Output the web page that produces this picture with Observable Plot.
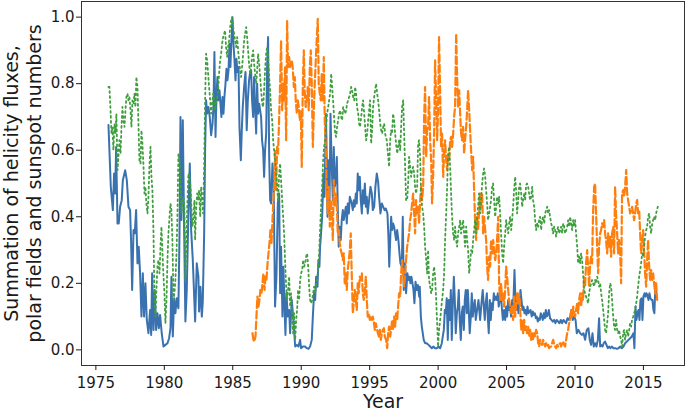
<!DOCTYPE html>
<html><head><meta charset="utf-8">
<script src="https://cdn.jsdelivr.net/npm/d3@7"></script>
<script src="https://cdn.jsdelivr.net/npm/@observablehq/plot@0.6"></script>
<style>body{margin:0;background:#fff}</style>
</head><body><div id="chart"></div>
<script>
const xTicks = [1975, 1980, 1985, 1990, 1995, 2000, 2005, 2010, 2015];
const yTicks = [0, 0.2, 0.4, 0.6, 0.8, 1.0];
const xLabel = "Year";
const yLabel = "Summation of helicity fluxes,\npolar fields and sunspot numbers";

// helicity fluxes (blue, solid)
const blueYears = [1975.92,1976.09,1976.24,1976.33,1976.41,1976.48,1976.58,1976.67,1976.77,1976.89,1976.97,1977.14,1977.26,1977.38,1977.50,1977.57,1977.65,1977.75,1977.84,1977.94,1978.04,1978.13,1978.23,1978.33,1978.43,1978.52,1978.62,1978.72,1978.84,1978.96,1979.04,1979.11,1979.21,1979.30,1979.40,1979.50,1979.60,1979.69,1979.81,1979.94,1980.08,1980.23,1980.35,1980.45,1980.52,1980.62,1980.72,1980.81,1980.91,1981.03,1981.11,1981.18,1981.25,1981.35,1981.45,1981.54,1981.64,1981.76,1981.86,1981.96,1982.08,1982.25,
1982.37,1982.49,1982.54,1982.64,1982.74,1982.81,1982.91,1982.98,1983.05,1983.13,1983.22,1983.32,1983.42,1983.52,1983.59,1983.66,1983.74,1983.81,1983.88,1983.95,1984.03,1984.10,1984.17,1984.25,1984.32,1984.39,1984.47,1984.54,1984.61,1984.69,1984.76,1984.83,1984.90,1984.98,1985.05,1985.12,1985.20,1985.27,1985.34,1985.42,1985.49,1985.59,1985.66,1985.73,1985.83,1985.93,1986.02,1986.10,1986.19,1986.27,1986.34,1986.41,1986.49,1986.56,1986.63,1986.71,1986.78,1986.85,1986.93,1987.00,1987.07,1987.14,1987.22,1987.29,1987.36,1987.44,1987.51,1987.58,1987.66,1987.73,1987.80,1987.90,1987.99,1988.09,1988.19,1988.29,1988.39,1988.46,1988.53,1988.63,1988.70,1988.78,1988.85,1988.92,1989.02,1989.12,
1989.19,1989.31,1989.43,1989.56,1989.68,1989.80,1989.92,1989.99,1990.12,1990.28,1990.41,1990.53,1990.65,1990.77,1990.85,1990.94,1991.02,1991.09,1991.19,1991.26,1991.33,1991.38,1991.45,1991.53,1991.63,1991.70,1991.75,1991.80,1991.84,1991.92,1991.99,1992.06,1992.14,1992.21,1992.31,1992.38,1992.45,1992.53,1992.60,1992.67,1992.74,1992.82,1992.89,1992.96,1993.04,1993.11,1993.18,1993.26,1993.33,1993.40,1993.48,1993.55,1993.62,1993.69,1993.77,1993.84,1993.91,1993.99,1994.06,1994.13,1994.20,1994.28,1994.35,1994.43,1994.50,1994.57,1994.65,1994.72,1994.79,1994.86,1994.96,1995.06,1995.16,1995.23,1995.33,1995.42,1995.52,1995.62,1995.69,1995.79,1995.89,1995.99,1996.09,1996.18,1996.30,1996.38,1996.43,
1996.50,1996.57,1996.64,1996.71,1996.79,1996.86,1996.93,1997.01,1997.10,1997.18,1997.25,1997.35,1997.42,1997.49,1997.59,1997.66,1997.76,1997.83,1997.91,1997.98,1998.05,1998.13,1998.20,1998.27,1998.35,1998.44,1998.52,1998.62,1998.66,1998.74,1998.81,1998.88,1998.95,1999.05,1999.17,1999.30,1999.42,1999.54,1999.66,1999.78,1999.91,2000.03,2000.15,2000.27,2000.34,2000.42,2000.49,2000.56,2000.63,2000.71,2000.78,2000.85,2000.93,2001.00,2001.07,2001.15,2001.22,2001.29,2001.37,2001.44,2001.51,2001.58,2001.66,2001.73,2001.80,2001.88,2001.95,2002.02,2002.10,2002.17,2002.24,2002.31,2002.39,2002.46,2002.53,2002.61,2002.68,2002.75,2002.85,2002.95,
2003.07,2003.19,2003.26,2003.34,2003.41,2003.48,2003.56,2003.63,2003.70,2003.78,2003.85,2003.92,2003.99,2004.07,2004.14,2004.21,2004.29,2004.36,2004.43,2004.51,2004.58,2004.65,2004.73,2004.82,2004.90,2004.97,2005.04,2005.12,2005.19,2005.26,2005.33,2005.41,2005.48,2005.58,2005.65,2005.72,2005.80,2005.87,2005.94,2006.02,2006.09,2006.16,2006.24,2006.31,2006.38,2006.45,2006.53,2006.60,2006.67,2006.75,2006.84,2006.92,2006.99,2007.07,2007.14,2007.21,2007.28,2007.36,2007.43,2007.50,2007.58,2007.65,2007.72,2007.80,2007.87,2007.94,2008.01,2008.09,2008.18,2008.28,2008.38,2008.48,2008.57,2008.67,2008.77,2008.87,2008.96,2009.06,2009.16,2009.26,2009.35,2009.45,2009.55,2009.65,2009.74,2009.84,2009.94,2010.04,
2010.13,2010.25,2010.38,2010.50,2010.62,2010.74,2010.86,2010.98,2011.08,2011.18,2011.28,2011.37,2011.47,2011.57,2011.67,2011.76,2011.84,2011.91,2012.01,2012.10,2012.20,2012.30,2012.40,2012.49,2012.59,2012.69,2012.81,2012.93,2013.05,2013.18,2013.30,2013.42,2013.54,2013.66,2013.79,2013.91,2014.03,2014.15,2014.27,2014.34,2014.42,2014.49,2014.56,2014.64,2014.71,2014.78,2014.86,2014.93,2015.00,2015.08,2015.15,2015.22,2015.29,2015.37,2015.44,2015.51,2015.59,2015.66,2015.73,2015.80,2015.88,2015.95];
const blueValues = [0.676,0.49,0.42,0.53,0.47,0.61,0.38,0.38,0.43,0.45,0.51,0.54,0.51,0.43,0.42,0.33,0.18,0.36,0.35,0.42,0.26,0.31,0.23,0.10,0.23,0.10,0.20,0.09,0.05,0.12,0.045,0.23,0.06,0.18,0.06,0.11,0.065,0.105,0.05,0.01,0.015,0.02,0.035,0.065,0.22,0.04,0.155,0.11,0.155,0.125,0.35,0.70,0.39,0.69,0.35,0.085,0.18,0.41,0.56,0.36,0.27,0.085,
0.26,0.22,0.115,0.19,0.10,0.145,0.35,0.60,0.75,0.71,0.73,0.70,0.645,0.68,0.73,0.895,0.64,0.76,0.82,0.75,0.78,0.74,0.70,0.76,0.71,0.76,0.80,0.845,0.81,0.84,0.92,0.85,0.93,1.0,0.92,0.875,0.81,0.875,0.835,0.85,0.67,0.57,0.66,0.73,0.79,0.835,0.66,0.75,0.81,0.835,0.84,0.75,0.70,0.82,0.73,0.65,0.80,0.71,0.74,0.72,0.70,0.63,0.60,0.52,0.60,0.65,0.85,0.94,0.58,0.45,0.44,0.56,0.49,0.13,0.22,0.44,0.47,0.17,0.31,0.10,0.25,0.13,0.045,0.17,0.10,0.12,
0.05,0.15,0.09,0.01,0.015,0.01,0.03,0.005,0.01,0.01,0.005,0.003,0.01,0.03,0.10,0.17,0.15,0.22,0.19,0.27,0.25,0.31,0.35,0.40,0.53,0.46,0.58,0.71,0.64,0.40,0.57,0.41,0.71,0.58,0.45,0.61,0.49,0.51,0.58,0.43,0.31,0.37,0.33,0.39,0.42,0.39,0.41,0.43,0.38,0.44,0.41,0.46,0.45,0.44,0.42,0.45,0.43,0.47,0.44,0.53,0.48,0.52,0.45,0.41,0.48,0.44,0.50,0.43,0.46,0.41,0.45,0.49,0.47,0.42,0.43,0.49,0.53,0.505,0.46,0.41,0.44,0.43,0.42,0.425,0.41,0.33,0.25,
0.33,0.40,0.36,0.38,0.37,0.35,0.33,0.36,0.33,0.29,0.26,0.25,0.40,0.18,0.26,0.17,0.23,0.21,0.22,0.20,0.22,0.20,0.18,0.14,0.205,0.18,0.195,0.16,0.19,0.10,0.07,0.05,0.03,0.02,0.02,0.015,0.01,0.005,0.01,0.005,0.005,0.01,0.005,0.02,0.04,0.06,0.12,0.11,0.155,0.03,0.15,0.09,0.18,0.03,0.13,0.22,0.15,0.05,0.11,0.13,0.18,0.09,0.03,0.11,0.13,0.06,0.15,0.18,0.11,0.18,0.12,0.05,0.10,0.17,0.10,0.13,0.15,0.09,0.12,0.15,
0.09,0.15,0.18,0.13,0.09,0.14,0.17,0.10,0.05,0.15,0.09,0.14,0.12,0.17,0.15,0.16,0.15,0.17,0.13,0.15,0.18,0.13,0.09,0.12,0.09,0.13,0.10,0.15,0.12,0.13,0.10,0.15,0.12,0.24,0.15,0.12,0.15,0.11,0.15,0.18,0.15,0.12,0.13,0.11,0.12,0.105,0.13,0.11,0.115,0.12,0.10,0.115,0.105,0.11,0.095,0.10,0.085,0.095,0.09,0.11,0.10,0.09,0.11,0.095,0.12,0.10,0.105,0.12,0.095,0.09,0.085,0.09,0.08,0.09,0.085,0.08,0.09,0.08,0.09,0.085,0.08,0.095,0.09,0.10,0.12,0.09,0.10,0.09,
0.05,0.06,0.05,0.045,0.05,0.03,0.06,0.065,0.03,0.015,0.05,0.01,0.02,0.01,0.03,0.095,0.01,0.015,0.01,0.02,0.025,0.015,0.005,0.01,0.005,0.01,0.005,0.005,0.003,0.005,0.01,0.005,0.01,0.02,0.025,0.03,0.035,0.04,0.05,0.005,0.13,0.09,0.11,0.12,0.09,0.15,0.155,0.09,0.16,0.17,0.16,0.17,0.165,0.15,0.17,0.155,0.15,0.15,0.12,0.11,0.20,0.17];

// sunspot numbers (orange, dashed)
const orangeYears = [1986.44,1986.51,1986.58,1986.66,1986.73,1986.80,1986.88,1986.95,1987.02,1987.10,1987.17,1987.24,1987.32,1987.39,1987.46,1987.54,1987.61,1987.68,1987.75,1987.83,1987.90,1987.97,1988.02,1988.09,1988.17,1988.24,1988.31,1988.39,1988.46,1988.53,1988.61,1988.68,1988.75,1988.82,1988.90,1988.97,1989.04,1989.12,
1989.19,1989.31,1989.38,1989.46,1989.53,1989.60,1989.68,1989.75,1989.82,1989.90,1989.97,1990.04,1990.12,1990.19,1990.26,1990.33,1990.41,1990.48,1990.55,1990.63,1990.70,1990.77,1990.85,1990.92,1990.99,1991.07,1991.14,1991.21,1991.28,1991.36,1991.43,1991.50,1991.58,1991.65,1991.72,1991.80,1991.87,1991.94,1992.02,1992.09,1992.16,1992.23,1992.31,1992.38,1992.45,1992.53,1992.60,1992.67,1992.75,1992.82,1992.89,1992.96,1993.04,1993.11,1993.18,1993.26,1993.33,1993.40,1993.48,1993.55,1993.62,1993.69,1993.77,1993.84,1993.91,1993.99,1994.06,1994.13,1994.20,1994.28,1994.35,1994.43,1994.50,1994.57,1994.65,1994.72,1994.79,1994.86,1994.94,1995.01,1995.08,1995.16,1995.23,1995.30,1995.38,1995.45,1995.52,1995.60,1995.67,1995.74,1995.82,1995.89,1995.96,1996.04,1996.11,
1996.20,1996.28,1996.35,1996.42,1996.50,1996.57,1996.64,1996.71,1996.79,1996.86,1996.93,1997.01,1997.08,1997.15,1997.23,1997.30,1997.37,1997.45,1997.52,1997.59,1997.66,1997.74,1997.81,1997.88,1997.96,1998.03,1998.10,1998.18,1998.25,1998.32,1998.39,1998.47,1998.54,1998.61,1998.69,1998.76,1998.83,1998.91,1998.98,1999.05,1999.13,1999.20,1999.27,1999.34,1999.42,1999.49,1999.56,1999.64,1999.71,1999.78,1999.86,1999.93,2000.00,2000.07,2000.15,2000.22,2000.29,2000.37,2000.44,2000.51,2000.59,2000.66,2000.73,2000.81,2000.88,2000.95,2001.02,2001.10,2001.17,2001.24,2001.32,2001.39,2001.46,2001.54,2001.61,2001.68,2001.75,2001.83,2001.90,2001.97,2002.05,2002.12,2002.19,2002.27,2002.34,2002.41,2002.49,2002.56,2002.63,2002.70,2002.78,2002.85,2002.92,2002.99,
2003.07,2003.14,2003.22,2003.29,2003.36,2003.44,2003.51,2003.58,2003.65,2003.73,2003.80,2003.87,2003.95,2004.02,2004.09,2004.17,2004.24,2004.31,2004.39,2004.46,2004.53,2004.60,2004.68,2004.75,2004.82,2004.90,2004.97,2005.04,2005.12,2005.19,2005.26,2005.34,2005.41,2005.48,2005.55,2005.63,2005.70,2005.77,2005.85,2005.92,2005.99,2006.07,2006.14,2006.21,2006.29,2006.36,2006.43,2006.50,2006.58,2006.65,2006.72,2006.80,2006.87,2006.94,2007.02,2007.09,2007.16,2007.24,2007.31,2007.38,2007.45,2007.53,2007.60,2007.67,2007.75,2007.82,2007.89,2007.97,2008.04,2008.11,2008.19,2008.26,2008.33,2008.41,2008.48,2008.55,2008.62,2008.70,2008.77,2008.84,2008.92,2008.99,2009.06,2009.14,2009.21,2009.28,2009.35,2009.43,2009.50,2009.57,2009.65,2009.72,2009.79,2009.87,2009.94,
2010.01,2010.08,2010.16,2010.23,2010.30,2010.38,2010.45,2010.52,2010.59,2010.67,2010.74,2010.81,2010.89,2010.96,2011.03,2011.11,2011.18,2011.25,2011.32,2011.40,2011.47,2011.54,2011.62,2011.69,2011.76,2011.84,2011.91,2011.98,2012.06,2012.13,2012.20,2012.27,2012.35,2012.42,2012.49,2012.57,2012.64,2012.71,2012.79,2012.86,2012.93,2013.00,2013.08,2013.15,2013.22,2013.30,2013.37,2013.44,2013.52,2013.59,2013.66,2013.74,2013.81,2013.88,2013.96,2014.03,2014.10,2014.17,2014.25,2014.32,2014.39,2014.47,2014.54,2014.61,2014.69,2014.76,2014.83,2014.91,2014.98,2015.05,2015.12,2015.20,2015.27,2015.34,2015.42,2015.49,2015.56,2015.64,2015.71,2015.78,2015.85,2015.93,2016.00];
const orangeValues = [0.05,0.03,0.025,0.04,0.10,0.16,0.13,0.15,0.18,0.17,0.20,0.23,0.18,0.22,0.21,0.26,0.29,0.32,0.36,0.32,0.39,0.45,0.49,0.60,0.48,0.61,0.59,0.70,0.80,0.93,0.72,0.80,0.75,0.85,0.63,0.99,0.85,0.88,
0.85,0.87,0.85,0.79,0.82,0.75,0.71,0.75,0.73,0.69,0.72,0.55,0.80,0.90,0.77,0.73,0.75,0.79,0.72,0.85,0.90,0.80,0.61,0.72,0.80,0.875,0.94,0.995,0.80,0.77,0.75,0.83,0.75,0.88,0.69,0.60,0.47,0.41,0.49,0.37,0.45,0.41,0.33,0.51,0.43,0.47,0.44,0.35,0.36,0.32,0.30,0.29,0.27,0.29,0.20,0.23,0.18,0.24,0.27,0.30,0.35,0.23,0.11,0.14,0.18,0.15,0.12,0.20,0.17,0.22,0.21,0.23,0.17,0.15,0.18,0.22,0.15,0.10,0.11,0.09,0.10,0.09,0.10,0.085,0.06,0.08,0.065,0.05,0.04,0.06,0.03,0.05,0.06,0.065,0.04,
0.03,0.005,0.05,0.07,0.04,0.06,0.09,0.06,0.10,0.07,0.11,0.09,0.13,0.17,0.16,0.23,0.27,0.22,0.19,0.23,0.27,0.31,0.33,0.35,0.39,0.41,0.44,0.47,0.41,0.35,0.45,0.41,0.43,0.38,0.45,0.49,0.45,0.49,0.70,0.79,0.58,0.66,0.67,0.76,0.63,0.57,0.44,0.53,0.65,0.87,0.75,0.63,0.72,0.94,0.77,0.61,0.65,0.52,0.59,0.63,0.57,0.54,0.58,0.57,0.63,0.64,0.61,0.65,0.70,0.73,0.95,0.82,0.73,0.78,0.71,0.65,0.63,0.67,0.59,0.63,0.67,0.72,0.78,0.72,0.66,0.60,0.54,0.58,0.48,0.39,0.33,0.40,0.36,0.41,
0.47,0.43,0.47,0.35,0.40,0.36,0.33,0.25,0.21,0.28,0.25,0.33,0.29,0.33,0.30,0.27,0.29,0.33,0.40,0.20,0.15,0.20,0.15,0.17,0.13,0.18,0.25,0.22,0.18,0.15,0.13,0.11,0.13,0.09,0.16,0.10,0.14,0.17,0.14,0.17,0.13,0.06,0.09,0.05,0.09,0.06,0.07,0.05,0.07,0.04,0.06,0.03,0.05,0.03,0.05,0.04,0.06,0.05,0.02,0.01,0.03,0.02,0.015,0.03,0.02,0.01,0.02,0.01,0.015,0.005,0.01,0.01,0.02,0.03,0.015,0.01,0.005,0.015,0.01,0.015,0.02,0.01,0.02,0.025,0.015,0.01,0.03,0.05,0.06,0.08,0.09,0.12,0.10,0.13,0.11,
0.10,0.12,0.14,0.11,0.15,0.17,0.13,0.17,0.15,0.22,0.19,0.26,0.30,0.25,0.19,0.26,0.28,0.26,0.41,0.49,0.50,0.41,0.31,0.23,0.31,0.35,0.36,0.38,0.37,0.39,0.35,0.33,0.29,0.35,0.31,0.34,0.28,0.35,0.37,0.29,0.49,0.41,0.35,0.29,0.33,0.29,0.20,0.47,0.48,0.46,0.49,0.54,0.47,0.45,0.43,0.41,0.42,0.43,0.41,0.39,0.41,0.44,0.45,0.41,0.42,0.35,0.29,0.32,0.36,0.30,0.23,0.19,0.27,0.33,0.25,0.21,0.24,0.21,0.23,0.20,0.17,0.20,0.15];

// polar fields (green, dotted)
const greenYears = [1975.92,1975.99,1976.06,1976.14,1976.21,1976.28,1976.36,1976.43,1976.50,1976.58,1976.65,1976.72,1976.80,1976.87,1976.94,1977.01,1977.09,1977.16,1977.23,1977.31,1977.38,1977.45,1977.53,1977.60,1977.67,1977.75,1977.82,1977.89,1977.96,1978.04,1978.11,1978.18,1978.26,1978.33,1978.40,1978.48,1978.55,1978.62,1978.69,1978.77,1978.84,1978.91,1978.99,1979.06,1979.13,1979.21,1979.28,1979.35,1979.43,1979.50,1979.57,1979.65,1979.72,1979.79,1979.86,1979.94,1980.01,1980.08,1980.16,1980.23,1980.30,1980.38,1980.45,1980.52,1980.59,1980.67,1980.74,1980.81,1980.89,1980.96,1981.03,1981.11,1981.18,1981.25,1981.32,1981.40,1981.47,1981.54,1981.62,1981.69,1981.76,1981.84,1981.91,1981.98,1982.06,1982.13,1982.20,
1982.25,1982.32,1982.40,1982.47,1982.54,1982.62,1982.69,1982.76,1982.83,1982.91,1982.98,1983.05,1983.13,1983.20,1983.27,1983.35,1983.42,1983.49,1983.57,1983.64,1983.71,1983.78,1983.86,1983.93,1984.00,1984.08,1984.15,1984.22,1984.30,1984.37,1984.44,1984.51,1984.59,1984.66,1984.73,1984.81,1984.88,1984.95,1985.03,1985.10,1985.17,1985.25,1985.32,1985.39,1985.46,1985.54,1985.61,1985.68,1985.76,1985.83,1985.90,1985.98,1986.05,1986.12,1986.19,1986.27,1986.34,1986.41,1986.49,1986.56,1986.63,1986.71,1986.78,1986.85,1986.93,1987.00,1987.07,1987.15,1987.22,1987.29,1987.37,1987.44,1987.51,1987.58,1987.66,1987.73,1987.80,1987.88,1987.95,1988.02,1988.09,1988.17,1988.24,1988.31,1988.39,1988.46,1988.53,1988.61,1988.68,1988.75,1988.82,1988.90,1988.97,1989.04,1989.12,
1989.19,1989.26,1989.34,1989.41,1989.48,1989.56,1989.63,1989.70,1989.77,1989.85,1989.92,1989.99,1990.07,1990.14,1990.21,1990.29,1990.36,1990.43,1990.51,1990.58,1990.65,1990.73,1990.80,1990.87,1990.94,1991.02,1991.09,1991.16,1991.24,1991.31,1991.38,1991.45,1991.53,1991.60,1991.67,1991.75,1991.82,1991.89,1991.97,1992.04,1992.11,1992.19,1992.26,1992.33,1992.40,1992.48,1992.55,1992.62,1992.70,1992.77,1992.84,1992.92,1992.99,1993.06,1993.13,1993.21,1993.28,1993.35,1993.43,1993.50,1993.57,1993.65,1993.72,1993.79,1993.87,1993.94,1994.01,1994.08,1994.16,1994.23,1994.30,1994.38,1994.45,1994.52,1994.60,1994.67,1994.74,1994.82,1994.89,1994.96,1995.03,1995.11,1995.18,1995.25,1995.33,1995.40,1995.47,1995.55,1995.62,1995.69,1995.77,1995.84,1995.91,1995.99,1996.06,
1996.13,1996.25,1996.42,1996.50,1996.57,1996.64,1996.71,1996.79,1996.86,1996.93,1997.01,1997.08,1997.15,1997.23,1997.30,1997.37,1997.45,1997.52,1997.59,1997.66,1997.74,1997.81,1997.88,1997.96,1998.03,1998.10,1998.18,1998.25,1998.32,1998.39,1998.47,1998.54,1998.61,1998.69,1998.76,1998.83,1998.91,1998.98,1999.05,1999.13,1999.20,1999.27,1999.34,1999.42,1999.49,1999.56,1999.64,1999.71,1999.78,1999.86,1999.93,2000.00,2000.07,2000.15,2000.22,2000.29,2000.37,2000.44,2000.51,2000.59,2000.66,2000.73,2000.81,2000.88,2000.95,2001.02,2001.10,2001.17,2001.24,2001.32,2001.39,2001.46,2001.54,2001.61,2001.68,2001.75,2001.83,2001.90,2001.97,2002.05,2002.12,2002.19,2002.27,2002.34,2002.41,2002.49,2002.56,2002.63,2002.70,2002.78,2002.85,2002.92,2002.99,
2003.07,2003.14,2003.22,2003.29,2003.36,2003.44,2003.51,2003.58,2003.65,2003.73,2003.80,2003.87,2003.95,2004.02,2004.09,2004.17,2004.24,2004.31,2004.39,2004.46,2004.53,2004.60,2004.68,2004.75,2004.82,2004.90,2004.97,2005.04,2005.12,2005.19,2005.26,2005.34,2005.41,2005.48,2005.55,2005.63,2005.70,2005.77,2005.85,2005.92,2005.99,2006.07,2006.14,2006.21,2006.29,2006.36,2006.43,2006.50,2006.58,2006.65,2006.72,2006.80,2006.87,2006.94,2007.02,2007.09,2007.16,2007.24,2007.31,2007.38,2007.45,2007.53,2007.60,2007.67,2007.75,2007.82,2007.89,2007.97,2008.04,2008.11,2008.18,2008.26,2008.33,2008.40,2008.48,2008.55,2008.62,2008.70,2008.77,2008.84,2008.92,2008.99,2009.06,2009.14,2009.21,2009.28,2009.36,2009.43,2009.50,2009.58,2009.65,2009.72,2009.79,2009.87,2009.94,
2010.01,2010.08,2010.16,2010.23,2010.30,2010.38,2010.45,2010.52,2010.59,2010.67,2010.74,2010.81,2010.89,2010.96,2011.03,2011.11,2011.18,2011.25,2011.32,2011.40,2011.47,2011.54,2011.62,2011.69,2011.76,2011.84,2011.91,2011.98,2012.06,2012.13,2012.20,2012.27,2012.35,2012.42,2012.49,2012.57,2012.64,2012.71,2012.79,2012.86,2012.93,2013.00,2013.08,2013.15,2013.22,2013.30,2013.37,2013.44,2013.52,2013.59,2013.66,2013.74,2013.81,2013.88,2013.96,2014.03,2014.10,2014.17,2014.25,2014.32,2014.39,2014.47,2014.54,2014.61,2014.69,2014.76,2014.83,2014.91,2014.98,2015.05,2015.12,2015.20,2015.27,2015.34,2015.42,2015.49,2015.56,2015.64,2015.71,2015.78,2015.86,2015.93,2015.98,2016.05];
const greenValues = [0.79,0.79,0.73,0.65,0.67,0.60,0.68,0.65,0.71,0.54,0.58,0.63,0.59,0.67,0.73,0.69,0.67,0.72,0.76,0.77,0.75,0.76,0.72,0.67,0.75,0.74,0.77,0.73,0.82,0.79,0.68,0.57,0.56,0.66,0.62,0.55,0.47,0.49,0.44,0.41,0.46,0.55,0.61,0.52,0.48,0.35,0.15,0.10,0.19,0.25,0.27,0.23,0.31,0.37,0.30,0.22,0.17,0.08,0.15,0.27,0.35,0.40,0.44,0.42,0.33,0.15,0.17,0.21,0.29,0.41,0.59,0.57,0.50,0.41,0.44,0.46,0.43,0.21,0.35,0.45,0.53,0.52,0.49,0.43,0.37,0.40,0.45,
0.33,0.42,0.47,0.45,0.48,0.40,0.49,0.45,0.41,0.55,0.75,0.89,0.87,0.83,0.79,0.75,0.71,0.74,0.77,0.75,0.72,0.74,0.76,0.78,0.83,0.87,0.89,0.92,0.94,0.95,0.96,0.91,0.88,0.91,0.93,0.97,0.99,1.0,0.97,0.95,0.93,0.91,0.94,0.90,0.87,0.84,0.82,0.85,0.89,0.93,0.95,0.97,0.94,0.90,0.86,0.83,0.85,0.88,0.90,0.86,0.83,0.80,0.84,0.89,0.86,0.82,0.78,0.74,0.73,0.78,0.85,0.89,0.91,0.88,0.82,0.78,0.72,0.69,0.63,0.60,0.57,0.53,0.49,0.45,0.53,0.56,0.51,0.45,0.40,0.35,0.27,0.19,0.15,0.18,0.22,
0.13,0.17,0.09,0.05,0.11,0.03,0.09,0.12,0.18,0.15,0.21,0.23,0.24,0.27,0.25,0.26,0.28,0.29,0.25,0.19,0.15,0.14,0.15,0.17,0.19,0.17,0.20,0.21,0.25,0.29,0.36,0.43,0.49,0.57,0.61,0.63,0.67,0.71,0.73,0.75,0.77,0.83,0.79,0.75,0.70,0.65,0.64,0.67,0.69,0.71,0.72,0.70,0.69,0.73,0.72,0.71,0.72,0.74,0.75,0.76,0.77,0.79,0.78,0.76,0.75,0.79,0.77,0.73,0.71,0.68,0.67,0.70,0.73,0.75,0.71,0.67,0.63,0.65,0.69,0.72,0.75,0.62,0.66,0.73,0.76,0.78,0.80,0.77,0.75,0.72,0.68,0.66,0.65,0.67,0.68,
0.65,0.63,0.55,0.63,0.66,0.65,0.71,0.69,0.65,0.62,0.59,0.61,0.63,0.60,0.67,0.73,0.75,0.65,0.55,0.45,0.45,0.50,0.58,0.55,0.52,0.54,0.55,0.53,0.49,0.47,0.49,0.62,0.63,0.58,0.47,0.43,0.41,0.37,0.31,0.27,0.23,0.30,0.21,0.19,0.17,0.18,0.23,0.25,0.22,0.15,0.08,0.01,0.06,0.09,0.12,0.15,0.18,0.23,0.33,0.41,0.49,0.59,0.61,0.55,0.47,0.40,0.35,0.33,0.37,0.33,0.31,0.35,0.37,0.39,0.35,0.37,0.39,0.35,0.31,0.37,0.33,0.30,0.23,0.26,0.30,0.29,0.33,0.36,0.39,0.35,0.40,0.43,0.47,
0.41,0.45,0.50,0.53,0.545,0.52,0.48,0.44,0.39,0.41,0.43,0.45,0.49,0.50,0.45,0.40,0.43,0.46,0.44,0.46,0.41,0.35,0.29,0.26,0.31,0.35,0.39,0.37,0.35,0.38,0.40,0.36,0.39,0.43,0.48,0.52,0.48,0.41,0.45,0.49,0.50,0.47,0.43,0.45,0.47,0.45,0.495,0.50,0.49,0.47,0.45,0.46,0.49,0.45,0.43,0.39,0.36,0.38,0.37,0.39,0.40,0.36,0.39,0.40,0.38,0.41,0.42,0.43,0.41,0.42,0.40,0.38,0.37,0.35,0.37,0.36,0.34,0.36,0.37,0.35,0.36,0.37,0.35,0.38,0.37,0.35,0.36,0.37,0.39,0.37,0.40,0.38,0.36,0.39,0.37,
0.39,0.35,0.31,0.26,0.28,0.26,0.29,0.27,0.23,0.18,0.17,0.16,0.15,0.14,0.17,0.19,0.20,0.21,0.20,0.19,0.21,0.20,0.22,0.21,0.19,0.20,0.17,0.15,0.12,0.09,0.06,0.05,0.08,0.11,0.17,0.20,0.19,0.15,0.10,0.07,0.06,0.09,0.06,0.05,0.06,0.04,0.03,0.01,0.05,0.06,0.03,0.05,0.06,0.04,0.06,0.08,0.07,0.09,0.10,0.11,0.12,0.14,0.16,0.19,0.22,0.24,0.26,0.29,0.28,0.31,0.34,0.36,0.37,0.40,0.41,0.37,0.35,0.38,0.39,0.40,0.39,0.41,0.42,0.43];

const series = (years, values) => years.map((x, i) => ({x, y: values[i]}));
const blue = series(blueYears, blueValues);
const orange = series(orangeYears, orangeValues);
const green = series(greenYears, greenValues);

const chart = Plot.plot({
  width: 685,
  height: 411,
  marginLeft: 81,
  marginRight: 1,
  marginTop: 1,
  marginBottom: 46,
  style: {fontFamily: "DejaVu Sans", fontSize: "15px", background: "#fff", color: "#1a1a1a"},
  x: {domain: [1973.95, 2018.0]},
  y: {domain: [-0.047, 1.047]},
  marks: [
    Plot.line(blue, {x: "x", y: "y", stroke: "#3a72b0", strokeWidth: 2}),
    Plot.line(orange, {x: "x", y: "y", stroke: "#ff7f0e", strokeWidth: 2.2, strokeDasharray: "7.4,3.2"}),
    Plot.line(green, {x: "x", y: "y", stroke: "#3f9f3f", strokeWidth: 1.8, strokeDasharray: "1.8,3.2"}),
    Plot.frame({stroke: "#333", strokeWidth: 1}),
    Plot.axisX({ticks: xTicks, tickFormat: d => String(d), tickSize: 5, tickPadding: 7, fontSize: 15, label: null}),
    Plot.axisY({ticks: yTicks, tickFormat: d => d.toFixed(1), tickSize: 5, tickPadding: 2, fontSize: 15, label: null}),
    Plot.text([xLabel], {frameAnchor: "bottom", text: d => d, dy: 36, fontSize: 19, lineAnchor: "middle"}),
    Plot.text([yLabel], {frameAnchor: "left", text: d => d, rotate: -90, dx: -59, fontSize: 19, lineHeight: 1.21, lineAnchor: "middle", textAnchor: "middle"})
  ]
});
document.getElementById("chart").appendChild(chart);
</script>
</body></html>
